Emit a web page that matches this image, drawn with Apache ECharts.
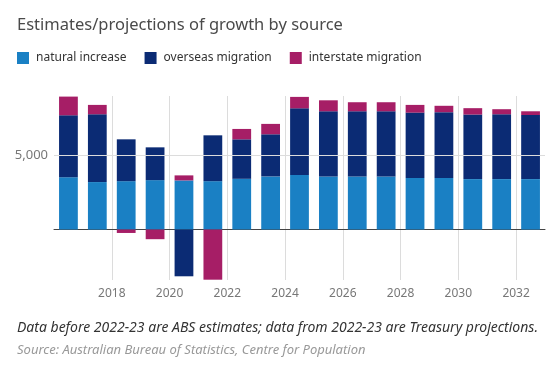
<!DOCTYPE html>
<html>
<head>
<meta charset="utf-8">
<script src="https://cdn.jsdelivr.net/npm/echarts@6/dist/echarts.min.js"></script>
<style>html,body{margin:0;padding:0;background:#fff;}#c{width:559px;height:365px;}</style>
</head>
<body>
<div id="c"></div>
<script>
const fiscalYears = ['2016-17','2017-18','2018-19','2019-20','2020-21','2021-22','2022-23','2023-24','2024-25','2025-26','2026-27','2027-28','2028-29','2029-30','2030-31','2031-32','2032-33'];
const naturalIncrease = [3530, 3200, 3260, 3330, 3310, 3260, 3420, 3580, 3670, 3580, 3580, 3580, 3470, 3470, 3400, 3400, 3400];
const overseasMigration = [4170, 4570, 2820, 2210, -3150, 3090, 2660, 2840, 4500, 4390, 4390, 4390, 4410, 4440, 4350, 4370, 4320];
const interstateMigration = [1260, 630, -230, -650, 340, -3380, 700, 700, 770, 740, 610, 610, 520, 430, 430, 340, 250];
const xTickYears = { min: 2016, max: 2033, interval: 2 };
const yLabelValue = 5000;

const FONT = '"Noto Sans", "Open Sans", sans-serif';
const chart = echarts.init(document.getElementById('c'), null, { renderer: 'canvas' });

chart.setOption({
  animation: false,
  backgroundColor: '#fff',
  title: {
    text: 'Estimates/projections of growth by source',
    left: 17, top: 17, padding: 0,
    textStyle: { fontFamily: FONT, fontSize: 16.5, fontWeight: 'normal', color: '#4a4a4a' }
  },
  legend: {
    left: 17, top: 52, padding: 0,
    icon: 'rect', itemWidth: 12, itemHeight: 12, itemGap: 18, itemStyle: {borderWidth: 0},
    textStyle: { fontFamily: FONT, fontSize: 12, color: '#333', padding: [0, 0, 0, 2] },
    data: ['natural increase', 'overseas migration', 'interstate migration']
  },
  grid: { left: 54, right: 14, top: 96, bottom: 85, containLabel: false },
  xAxis: [
    {
      type: 'category', data: fiscalYears, boundaryGap: true,
      axisLine: { show: true, onZero: true, lineStyle: { color: '#444', width: 1 } },
      axisTick: { show: false }, axisLabel: { show: false }, splitLine: { show: false }
    },
    {
      type: 'value', position: 'bottom',
      min: xTickYears.min, max: xTickYears.max, interval: xTickYears.interval,
      axisLine: { show: false, onZero: false }, axisTick: { show: false },
      axisLabel: { show: true, showMinLabel: false, showMaxLabel: false, margin: 8,
        color: '#777', fontFamily: FONT, fontSize: 12, formatter: v => String(v) },
      splitLine: { show: true, showMinLine: false, showMaxLine: false, lineStyle: { color: '#dcdcdc', width: 1 } }
    }
  ],
  yAxis: {
    type: 'value', min: -3400, max: 9000,
    axisLine: { show: false }, axisTick: { show: false }, axisLabel: { show: false }, splitLine: { show: false }
  },
  series: [
    {
      name: 'natural increase', type: 'bar', stack: 'g', xAxisIndex: 0, barWidth: '65%',
      itemStyle: { color: '#1a80c4' }, data: naturalIncrease,
      markLine: {
        silent: true, symbol: 'none', animation: false,
        lineStyle: { color: '#dcdcdc', type: 'solid', width: 1 },
        label: { show: true, position: 'start', distance: 6, color: '#777', fontFamily: FONT, fontSize: 13,
          formatter: () => yLabelValue.toLocaleString('en-US') },
        emphasis: { disabled: true },
        data: [{ yAxis: yLabelValue }]
      },
      z: 2
    },
    {
      name: 'overseas migration', type: 'bar', stack: 'g', xAxisIndex: 0, barWidth: '65%',
      itemStyle: { color: '#0b2b74' }, data: overseasMigration, z: 2
    },
    {
      name: 'interstate migration', type: 'bar', stack: 'g', xAxisIndex: 0, barWidth: '65%',
      itemStyle: { color: '#a61e66' }, data: interstateMigration, z: 2
    }
  ],
  graphic: [
    { type: 'text', left: 17, top: 321, style: { text: 'Data before 2022-23 are ABS estimates; data from 2022-23 are Treasury projections.',
      font: 'italic 14px ' + FONT, fill: '#333' } },
    { type: 'text', left: 17, top: 344, style: { text: 'Source: Australian Bureau of Statistics, Centre for Population',
      font: 'italic 13px ' + FONT, fill: '#999' } }
  ]
});
</script>
</body>
</html>
